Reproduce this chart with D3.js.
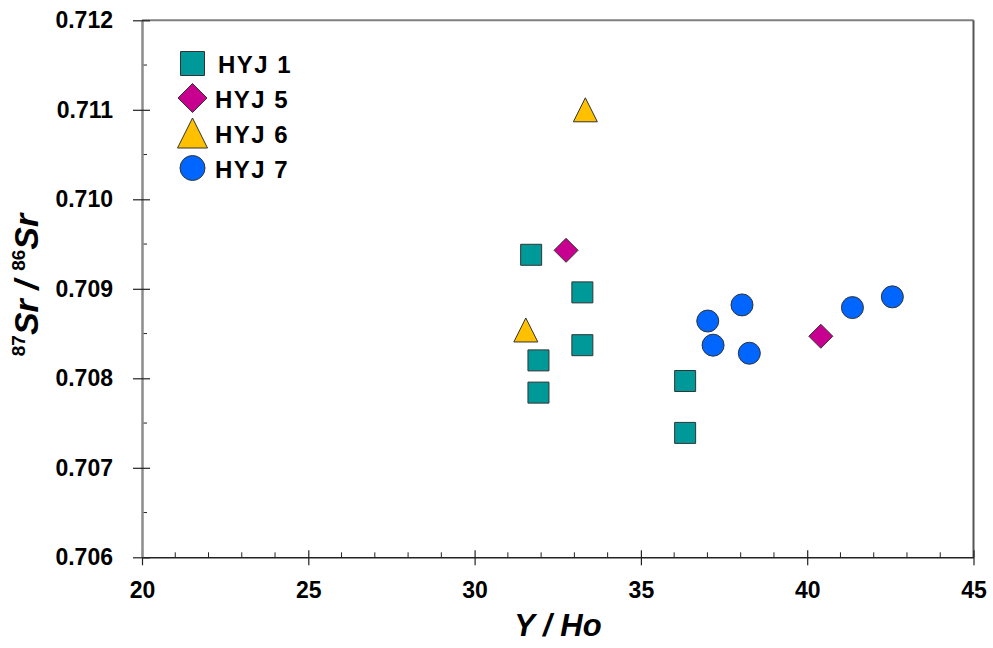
<!DOCTYPE html>
<html>
<head>
<meta charset="utf-8">
<script src="https://cdn.jsdelivr.net/npm/d3@7"></script>
<style>
  body { margin: 0; background: #fff; overflow: hidden; }
  svg { display: block; }
  text { font-family: Arial, "Liberation Sans", sans-serif; font-weight: bold; }
</style>
</head>
<body>
<div id="scatterPlot"></div>
<script>
// data
var seriesNames = ["HYJ 1", "HYJ 5", "HYJ 6", "HYJ 7"];
var seriesShapes = ["square", "diamond", "triangle", "circle"];
var seriesColors = ["#009999", "#c8008f", "#ffc000", "#0066ff"];

var hyj1X = [31.70, 33.24, 33.24, 31.92, 31.92, 36.33, 36.33];
var hyj1Y = [0.70938, 0.70896, 0.70837, 0.70820, 0.70784, 0.70797, 0.70739];
var hyj5X = [32.75, 40.41];
var hyj5Y = [0.70943, 0.70847];
var hyj6X = [31.54, 33.33];
var hyj6Y = [0.70854, 0.71100];
var hyj7X = [37.01, 38.04, 37.17, 38.26, 41.36, 42.56];
var hyj7Y = [0.70864, 0.70882, 0.70837, 0.70828, 0.70879, 0.70891];

var xTicks = [20, 25, 30, 35, 40, 45];
var yTicks = [0.706, 0.707, 0.708, 0.709, 0.710, 0.711, 0.712];

var svgWidth = 993, svgHeight = 648;
var margin = {top: 20.3, right: 19.5, bottom: 90.7, left: 142};
var innerWidth = svgWidth - margin.left - margin.right;
var innerHeight = svgHeight - margin.top - margin.bottom;

var xScale = d3.scaleLinear().domain([20, 45]).range([0, innerWidth]);
var yScale = d3.scaleLinear().domain([0.706, 0.712]).range([innerHeight, 0]);

var svg = d3.select("#scatterPlot").append("svg")
    .attr("width", svgWidth)
    .attr("height", svgHeight);

var g = svg.append("g")
    .attr("transform", "translate(" + margin.left + "," + margin.top + ")");

// frame: top and right
g.append("line").attr("x1", 0).attr("x2", innerWidth).attr("y1", 0).attr("y2", 0)
    .attr("stroke", "#808080").attr("stroke-width", 2);
g.append("line").attr("x1", innerWidth).attr("x2", innerWidth).attr("y1", 0).attr("y2", innerHeight)
    .attr("stroke", "#555").attr("stroke-width", 2);

// minor ticks
var xMinor = d3.range(21, 45, 1).filter(function(v){ return v % 5 != 0; });
g.selectAll(".xminor").data(xMinor).enter().append("line")
    .attr("x1", d => xScale(d)).attr("x2", d => xScale(d))
    .attr("y1", innerHeight).attr("y2", innerHeight - 5)
    .attr("stroke", "#222").attr("stroke-width", 1);
var yMinor = d3.range(0, 6).map(function(i){ return 0.7065 + i * 0.001; });
g.selectAll(".yminor").data(yMinor).enter().append("line")
    .attr("x1", 0).attr("x2", 5)
    .attr("y1", d => yScale(d)).attr("y2", d => yScale(d))
    .attr("stroke", "#222").attr("stroke-width", 1);

// x axis
var xAxis = d3.axisBottom(xScale).tickValues(xTicks).tickFormat(d3.format("d"))
    .tickSizeInner(0).tickSizeOuter(0).tickPadding(24);
var gx = g.append("g").attr("transform", "translate(0," + innerHeight + ")").call(xAxis);
gx.select(".domain").attr("stroke", "#222").attr("stroke-width", 1.5);
gx.selectAll(".tick line").attr("y1", -7).attr("y2", 8).attr("stroke", "#222").attr("stroke-width", 1.2);
gx.selectAll(".tick text").style("font-size", "23px").attr("fill", "#000")
    .attr("font-family", "Arial, 'Liberation Sans', sans-serif").attr("font-weight", "bold");

// y axis
var yAxis = d3.axisLeft(yScale).tickValues(yTicks).tickFormat(d3.format(".3f"))
    .tickSizeInner(0).tickSizeOuter(0).tickPadding(29);
var gy = g.append("g").call(yAxis);
gy.select(".domain").attr("stroke", "#8c8c8c").attr("stroke-width", 2.5);
gy.selectAll(".tick line").attr("x1", -9).attr("x2", 8).attr("stroke", "#222").attr("stroke-width", 1.2);
gy.selectAll(".tick text").style("font-size", "23px").attr("fill", "#000")
    .attr("font-family", "Arial, 'Liberation Sans', sans-serif").attr("font-weight", "bold");

// marker shapes
function shapePath(shape, s) {
    var p = d3.path();
    if (shape == "square") {
        p.rect(-s / 2, -s / 2, s, s);
    } else if (shape == "diamond") {
        p.moveTo(0, -s / 2); p.lineTo(s / 2, 0); p.lineTo(0, s / 2); p.lineTo(-s / 2, 0); p.closePath();
    } else if (shape == "triangle") {
        p.moveTo(0, -s / 2); p.lineTo(s / 2, s / 2); p.lineTo(-s / 2, s / 2); p.closePath();
    } else {
        p.arc(0, 0, s / 2, 0, 2 * Math.PI);
    }
    return p.toString();
}
var plotSizes = {square: 21, diamond: 24, triangle: 24, circle: 22};
var legendSizes = {square: 24, diamond: 29, triangle: 30, circle: 25};

var allX = [hyj1X, hyj5X, hyj6X, hyj7X];
var allY = [hyj1Y, hyj5Y, hyj6Y, hyj7Y];

var dots = g.append("g");
seriesNames.forEach(function(name, si) {
    var pts = allX[si].map(function(x, i){ return {x: x, y: allY[si][i]}; });
    dots.selectAll(".s" + si).data(pts).enter().append("path")
        .attr("class", "s" + si)
        .attr("transform", d => "translate(" + xScale(d.x) + "," + yScale(d.y) + ")")
        .attr("d", shapePath(seriesShapes[si], plotSizes[seriesShapes[si]]))
        .attr("fill", seriesColors[si])
        .attr("stroke", "#333")
        .attr("stroke-width", 1);
});

// legend
var legendY = [63.5, 98, 133, 168];
var legendTextX = [218, 215, 215, 215];
var legend = svg.append("g");
seriesNames.forEach(function(name, si) {
    legend.append("path")
        .attr("transform", "translate(192.5," + legendY[si] + ")")
        .attr("d", shapePath(seriesShapes[si], legendSizes[seriesShapes[si]]))
        .attr("fill", seriesColors[si])
        .attr("stroke", "#333")
        .attr("stroke-width", 1);
    legend.append("text")
        .attr("x", legendTextX[si])
        .attr("y", legendY[si] + 9.5)
        .style("font-size", "24px")
        .style("letter-spacing", "1.5px")
        .text(name);
});

// axis titles
svg.append("text")
    .attr("x", 558).attr("y", 636)
    .attr("text-anchor", "middle")
    .style("font-size", "31px").style("font-style", "italic")
    .text("Y / Ho");

var yTitle = svg.append("text")
    .attr("transform", "translate(38,285) rotate(-90)")
    .attr("text-anchor", "middle")
    .style("font-size", "34px").style("font-style", "italic");
yTitle.append("tspan").attr("dy", "-13").style("font-size", "19px").style("font-style", "normal").text("87");
yTitle.append("tspan").attr("dy", "13").text("Sr / ");
yTitle.append("tspan").attr("dy", "-13").style("font-size", "19px").style("font-style", "normal").text("86");
yTitle.append("tspan").attr("dy", "13").text("Sr");
</script>
</body>
</html>
